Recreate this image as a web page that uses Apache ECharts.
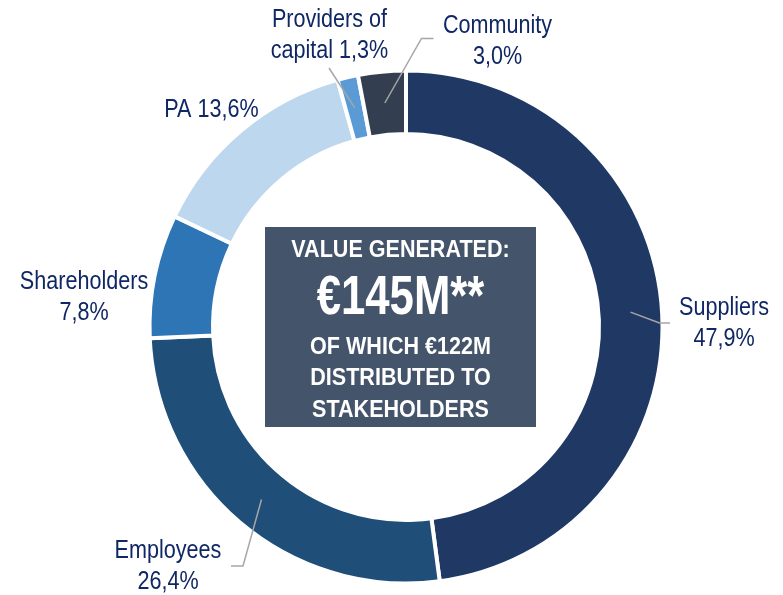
<!DOCTYPE html>
<html><head><meta charset="utf-8">
<script src="https://cdn.jsdelivr.net/npm/echarts@6/dist/echarts.min.js"></script>
<style>html,body{margin:0;padding:0;background:#fff}#c{width:783px;height:595px}</style>
</head><body><div id="c"></div>
<script>
const categories = ['Suppliers', 'Employees', 'Shareholders', 'PA', 'Providers of capital', 'Community'];
const values = [47.9, 26.4, 7.8, 13.6, 1.3, 3.0];
const labelTexts = ['Suppliers\n47,9%', 'Employees\n26,4%', 'Shareholders\n7,8%', 'PA 13,6%', 'Providers of\ncapital 1,3%', 'Community\n3,0%'];
const centerLines = ['VALUE GENERATED:', '€145M**', 'OF WHICH €122M', 'DISTRIBUTED TO', 'STAKEHOLDERS'];

const colors = ['#203864', '#1F4E79', '#2E75B6', '#BDD7EE', '#5B9BD5', '#333F50'];
const CX = 406, CY = 327, R_IN = 193, R_OUT = 256.5, R_LEAD = 225, START = 90;
// label block centres and leader-line bends (relative to label centre)
const labelPos = [[724, 323.5], [168, 566.5], [84, 297.5], [211.5, 110], [329.5, 35.5], [497.5, 41.5]];
const leaders = [[[-64.5, -0.5], [-54, -0.5]], [[75, -0.5], [63, -0.5]], null, null, [[-0.5, 32.5]], [[-76, -3], [-64, -3]]];
const centerY = [250, 299, 347, 378.5, 410];
const centerFont = ['bold 24.5px', 'bold 56px', 'bold 24.5px', 'bold 24.5px', 'bold 24.5px'];
const centerScale = [0.88, 0.78, 0.88, 0.88, 0.88];

const total = values.reduce((a, b) => a + b, 0);
const midAngles = [];
let cum = 0;
values.forEach(v => { midAngles.push((START - 360 * (cum + v / 2) / total) * Math.PI / 180); cum += v; });

const FONT = '"Liberation Sans", Arial, sans-serif';
const LABEL_COLOR = '#102766';

const chart = echarts.init(document.getElementById('c'), null, {renderer: 'canvas'});

const graphics = [
  {type: 'rect', z: 10, shape: {x: 265, y: 227, width: 271, height: 200}, style: {fill: '#44546A'}}
];
centerLines.forEach((t, i) => graphics.push({
  type: 'text', z: 11, x: 400.5, y: centerY[i], scaleX: centerScale[i],
  style: {text: t, fill: '#fff', font: centerFont[i] + ' ' + FONT, textAlign: 'center', textVerticalAlign: 'middle'}
}));
labelTexts.forEach((t, i) => graphics.push({
  type: 'text', z: 11, x: labelPos[i][0], y: labelPos[i][1], scaleX: 0.83,
  style: {text: t, fill: LABEL_COLOR, font: '26px ' + FONT, lineHeight: 31, textAlign: 'center', textVerticalAlign: 'middle'}
}));

chart.setOption({
  animation: false,
  series: [{
    type: 'pie',
    center: [CX, CY],
    radius: [R_IN, R_OUT],
    startAngle: START,
    clockwise: true,
    silent: true,
    label: {show: false},
    labelLine: {show: false},
    itemStyle: {borderColor: '#fff', borderWidth: 4},
    emphasis: {disabled: true},
    data: categories.map((c, i) => ({name: c, value: values[i], itemStyle: {color: colors[i]}})),
    z: 2
  }, {
    // transparent overlay that carries the leader lines above the ring
    type: 'pie',
    center: [CX, CY],
    radius: [R_IN, R_OUT],
    startAngle: START,
    clockwise: true,
    silent: true,
    avoidLabelOverlap: false,
    itemStyle: {color: 'rgba(0,0,0,0)', borderWidth: 0},
    label: {show: true, position: 'outside', formatter: ' ', color: 'rgba(0,0,0,0)', fontSize: 10},
    labelLine: {show: true, lineStyle: {color: '#A6A6A6', width: 1.5}},
    labelLayout: function (params) {
      const i = params.dataIndex;
      const [lx, ly] = labelPos[i];
      const res = {x: lx, y: ly, align: 'center', verticalAlign: 'middle'};
      const a = midAngles[i];
      const start = [CX + R_LEAD * Math.cos(a), CY - R_LEAD * Math.sin(a)];
      if (leaders[i]) {
        const pts = [start].concat(leaders[i].map(d => [lx + d[0], ly + d[1]]));
        if (pts.length === 2) pts.push(pts[1].slice());
        res.labelLinePoints = pts;
      }
      return res;
    },
    emphasis: {disabled: true},
    data: categories.map((c, i) => ({name: c, value: values[i], labelLine: {show: !!leaders[i]}})),
    z: 3
  }],
  graphic: graphics
});
</script></body></html>
